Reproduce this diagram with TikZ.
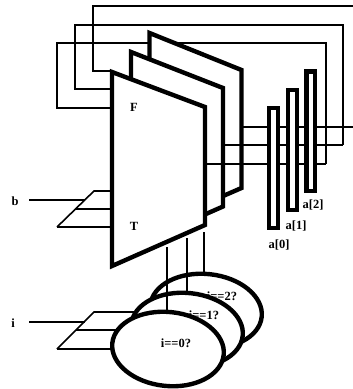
\documentclass[tikz,border=0pt]{standalone}
\usepackage{fontspec}
\setmainfont{Liberation Serif}
\begin{document}
\begin{tikzpicture}[x=1pt,y=-1pt,
  wire/.style={line width=1.6pt,line join=miter},
  muxbox/.style={draw,line width=4.4pt,fill=white,line join=miter},
  regbar/.style={draw,line width=4.4pt,fill=white,line join=miter},
  selell/.style={draw,line width=4.4pt,fill=white,shift={#1},rotate=-6},
  lab/.style={font=\bfseries\fontsize{12.5}{12.5}\selectfont,inner sep=0pt}]
\useasboundingbox (0,0) rectangle (353,389);
% feedback wires
\coordinate (o0) at (205,164); \coordinate (o1) at (223,145); \coordinate (o2) at (241,127);
\coordinate (e0) at (326,164); \coordinate (e1) at (343,145); \coordinate (e2) at (353,127);
\coordinate (in0) at (112,108); \coordinate (in1) at (112,89); \coordinate (in2) at (112,71);
\draw[wire] (e0) -- (326,43) -- (57,43) -- (57,108) -- (in0);
\draw[wire] (e1) -- (343,25) -- (75,25) -- (75,89) -- (in1);
\draw[wire] (353,6) -- (93,6) -- (93,71) -- (in2);
% multiplexers
\path[muxbox] (149.5,33) -- (241.5,70) -- (241.5,188) -- (149.5,228) -- cycle;
\path[muxbox] (131,52) -- (223,88) -- (223,206.5) -- (131,247) -- cycle;
\draw[wire] (o2) -- (e2);
\path[muxbox] (112,72) -- (205,107) -- (205,225) -- (112,266) -- cycle;
\draw[wire] (o1) -- (e1);
\draw[wire] (o0) -- (e0);
% register bars
\path[regbar] (269,108) rectangle (278,228);
\path[regbar] (288,90) rectangle (297,210);
\path[regbar] (306.5,71.5) rectangle (315,191);
% b select
\coordinate (bt) at (94,191); \coordinate (bb) at (57,227);
\draw[wire] (bb) -- (bt) -- (110,191);
\draw[wire] (76,209) -- (110,209);
\draw[wire] (bb) -- (110,227);
\draw[wire] (29,200) -- (85,200);
% i select
\coordinate (it) at (94,312); \coordinate (ib) at (57,349);
\draw[wire] (ib) -- (it) -- (135,312);
\draw[wire] (76,330) -- (125,330);
\draw[wire] (ib) -- (115,349);
\draw[wire] (29,322) -- (85,322);
% selector ellipses
\path[selell={(206,311)}] (0,0) ellipse [x radius=56,y radius=37];
\node[lab] (s2) at (222,296) {i==2?};
\path[selell={(187,330)}] (0,0) ellipse [x radius=56,y radius=37];
\node[lab] (s1) at (204,315) {i==1?};
\path[selell={(168,349)}] (0,0) ellipse [x radius=56,y radius=37];
\node[lab] (s0) at (176,343) {i==0?};
\draw[wire] (204,232) -- (204,273);
\draw[wire] (187,238) -- (187,292);
\draw[wire] (167,247) -- (167,311);
% labels
\node[lab] (lF) at (134,107) {F};
\node[lab] (lT) at (134,226) {T};
\node[lab] (lb) at (15,201) {b};
\node[lab] (li) at (13,323) {i};
\node[lab] (a0) at (279,245) {a[0]};
\node[lab] (a1) at (296,226) {a[1]};
\node[lab] (a2) at (313,205) {a[2]};
\end{tikzpicture}
\end{document}
